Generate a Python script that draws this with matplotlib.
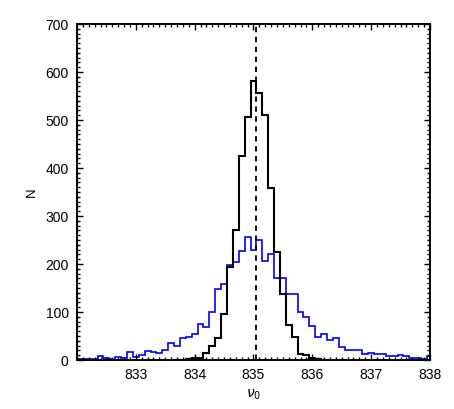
import numpy as np
import matplotlib
matplotlib.use("Agg")
import matplotlib.pyplot as plt
from matplotlib.ticker import MultipleLocator

# histogram counts, bin width 0.1
bin_w = 0.1

# blue: wide distribution, first bin starts at 831.95
blue_start = 831.95
blue = [2, 2, 2, 3, 9, 5, 3, 7, 5, 16,
        6, 10, 19, 16, 15, 20, 35, 30, 46, 48,
        55, 76, 69, 100, 148, 159, 198, 205, 227, 257,
        230, 250, 206, 221, 170, 170, 138, 138, 100, 90,
        71, 48, 55, 42, 45, 28, 21, 21, 20, 13,
        14, 13, 12, 9, 9, 10, 9, 5, 5, 2, 8]

# black: narrow distribution, first bin starts at 833.55
black_start = 833.55
black = [0, 1, 1, 2, 5, 5, 15, 30, 46, 96,
         194, 271, 425, 506, 582, 556, 511, 359, 226, 137,
         72, 48, 12, 10, 4, 2, 1, 1, 0]

nu_ref = 835.05
x_ticks = [833, 834, 835, 836, 837, 838]
y_ticks = [0, 100, 200, 300, 400, 500, 600, 700]

blue_edges = blue_start + bin_w * np.arange(len(blue) + 1)
black_edges = black_start + bin_w * np.arange(len(black) + 1)

fig = plt.figure(figsize=(4.54, 4.09), dpi=100)
ax = fig.add_axes([0.1696, 0.1198, 0.947 - 0.1696, 0.9413 - 0.1198])

ax.stairs(blue, blue_edges, baseline=None, color="#0000ff", lw=1.2)
ax.stairs(black, black_edges, baseline=None, color="black", lw=1.5)
ax.axvline(nu_ref, color="black", lw=1.3, ls=(0, (3, 2.5)))

ax.set_xlim(832, 838)
ax.set_ylim(0, 700)
ax.set_xticks(x_ticks)
ax.set_yticks(y_ticks)
ax.xaxis.set_minor_locator(MultipleLocator(0.1))
ax.yaxis.set_minor_locator(MultipleLocator(10))
ax.tick_params(which="both", direction="in", top=True, right=True,
               labeltop=False, labelright=False, width=1.0)
ax.tick_params(which="major", length=4.5, labelsize=10, pad=6)
ax.tick_params(which="minor", length=2)
for s in ax.spines.values():
    s.set_linewidth(1.4)

for lab in ax.get_xticklabels() + ax.get_yticklabels():
    lab.set_family("Liberation Sans")

ax.set_xlabel(r"$\nu_0$", fontsize=10, labelpad=4)
ax.set_ylabel("N", fontsize=9.5, family="Liberation Sans", labelpad=5)

fig.savefig("out.png", dpi=100)
